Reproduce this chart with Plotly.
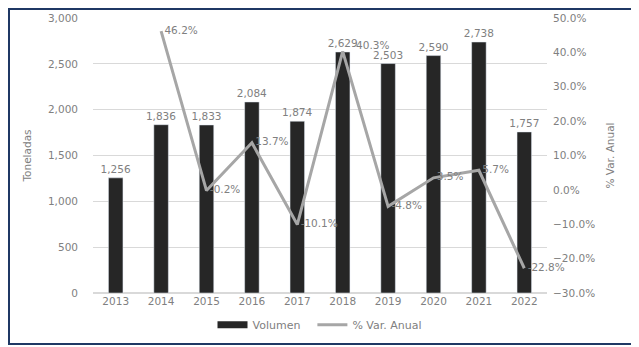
"""Volumen anual (toneladas) y % de variación anual, 2013-2022."""

import plotly.graph_objects as go

years = ["2013", "2014", "2015", "2016", "2017", "2018", "2019", "2020", "2021", "2022"]
volumen = [1256, 1836, 1833, 2084, 1874, 2629, 2503, 2590, 2738, 1757]
var_years = ["2014", "2015", "2016", "2017", "2018", "2019", "2020", "2021", "2022"]
var_anual = [46.2, -0.2, 13.7, -10.1, 40.3, -4.8, 3.5, 5.7, -22.8]

FONT = "DejaVu Sans"
GREY_TXT = "#808080"
BAR_COLOR = "#262626"
LINE_COLOR = "#a6a6a6"

# the page body adds ~8px offset, so the figure is a bit smaller than the window
W, H = 631, 339
L, R, T, B = 85, 92, 10, 54
pw, ph = W - L - R, H - T - B

fig = go.Figure()
fig.add_trace(go.Bar(
    x=years, y=volumen, name="Volumen", showlegend=False,
    marker_color=BAR_COLOR,
    text=[f"{v:,}" for v in volumen], textposition="outside",
    textfont=dict(size=10.5, color=GREY_TXT, family=FONT),
    constraintext="none", cliponaxis=False,
))
labels = [f" {v:.1f}%" for v in var_anual]
labels[4] = "    " + labels[4].strip()  # 2018: keep clear of the bar label
fig.add_trace(go.Scatter(
    x=var_years, y=var_anual, name="% Var. Anual", yaxis="y2",
    mode="lines+text", line=dict(color=LINE_COLOR, width=3),
    text=labels,
    textposition=["middle right"] * 4 + ["top right"] + ["middle right"] * 4,
    textfont=dict(size=10.5, color=GREY_TXT, family=FONT),
    cliponaxis=False, showlegend=False,
))
# entradas de leyenda (símbolo ancho como en el original)
fig.add_trace(go.Scatter(x=[None], y=[None], name="Volumen  ", mode="lines",
                         line=dict(color=BAR_COLOR, width=7)))
fig.add_trace(go.Scatter(x=[None], y=[None], name="% Var. Anual", mode="lines",
                         line=dict(color=LINE_COLOR, width=3)))

# marco exterior
fig.add_shape(
    type="rect", xref="paper", yref="paper",
    x0=(1 - L) / pw, x1=(626 - L) / pw,
    y0=(H - B - 336) / ph, y1=(H - B - 1) / ph,
    line=dict(color="#1f3864", width=2),
)

fig.update_layout(
    width=W, height=H,
    margin=dict(l=L, r=R, t=T, b=B, autoexpand=False),
    paper_bgcolor="white", plot_bgcolor="white",
    font=dict(family=FONT, size=10.5, color=GREY_TXT),
    bargap=0.68,
    showlegend=True,
    legend=dict(orientation="h", x=0.5, xanchor="center", y=-0.115, yanchor="middle",
                font=dict(size=11, color=GREY_TXT)),
    xaxis=dict(showgrid=False, showline=False, ticks="", automargin=False),
    yaxis=dict(range=[0, 3000], dtick=500, tickformat=",", gridcolor="#d9d9d9",
               zeroline=True, zerolinecolor="#d9d9d9", showline=False, automargin=False,
               ticklabelstandoff=14,
               title=dict(text="Toneladas", font=dict(size=10.5, color=GREY_TXT), standoff=14)),
    yaxis2=dict(range=[-30, 50], dtick=10, tickformat=".1f", ticksuffix="%",
                overlaying="y", side="right", showgrid=False, zeroline=False, automargin=False,
                ticklabelstandoff=5,
                title=dict(text="% Var. Anual", font=dict(size=10.5, color=GREY_TXT), standoff=12)),
)

fig.write_html("out.html")
